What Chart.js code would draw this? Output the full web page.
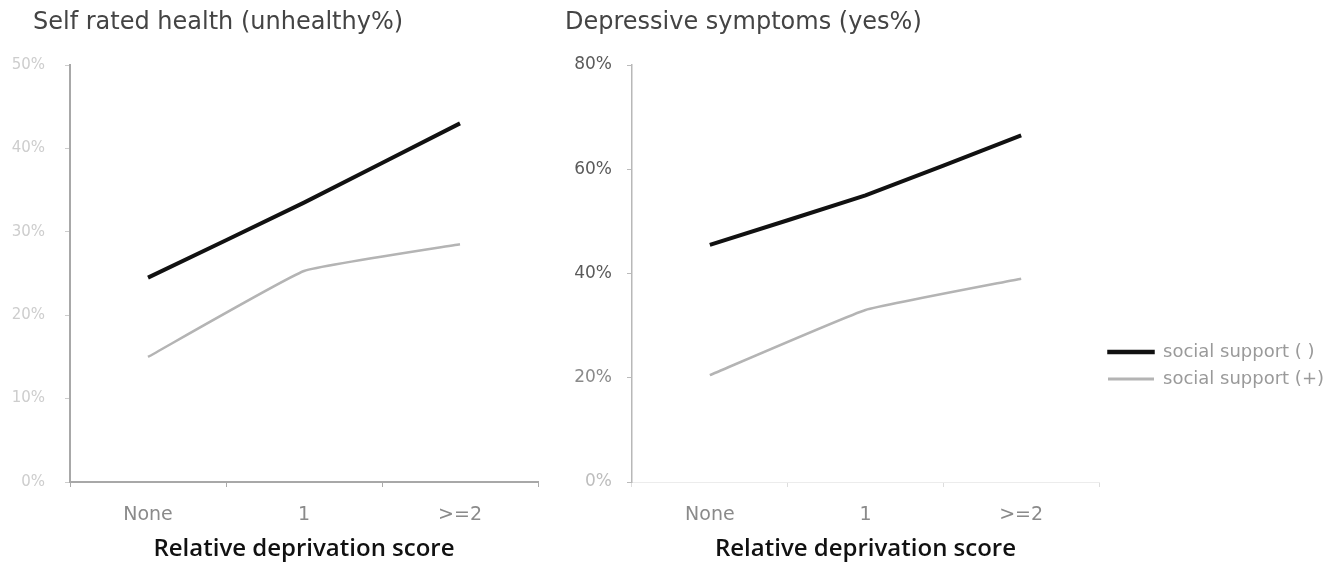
<!DOCTYPE html>
<html><head><meta charset="utf-8">
<script src="https://cdn.jsdelivr.net/npm/chart.js@4.4.0/dist/chart.umd.min.js"></script>
<style>
html,body{margin:0;padding:0;background:#fff;width:1343px;height:566px;overflow:hidden}
canvas{position:absolute;top:0}
#c1{left:0}
#c2{left:545px}
</style></head><body>
<canvas id="c1" width="545" height="566"></canvas>
<canvas id="c2" width="798" height="566"></canvas>
<script>
// ---- data ----
const categories = ['None', '1', '>=2'];
const seriesNames = ['social support ( )', 'social support (+)'];
const srhNoSupport = [24.5, 33.5, 43];
const srhSupport = [15, 25.3, 28.5];
const depNoSupport = [45.5, 55, 66.5];
const depSupport = [20.5, 33, 39];
const srhTicks = [0, 10, 20, 30, 40, 50];
const depTicks = [0, 20, 40, 60, 80];
const titles = ['Self rated health (unhealthy%)', 'Depressive symptoms (yes%)'];
const xTitle = 'Relative deprivation score';

const lineColors = ['#111111', '#b4b4b4'];
const lineWidths = [4, 2.5];

function ds(values, i) {
  return {
    label: seriesNames[i], data: values,
    borderColor: lineColors[i], backgroundColor: lineColors[i],
    borderWidth: lineWidths[i], pointRadius: 0, tension: 0.1
  };
}

// places the chart title at a fixed x offset inside its canvas
function titlePlacer(x) {
  return {
    id: 'titlePlacer',
    afterLayout(chart) { if (chart.titleBlock) chart.titleBlock.left = x; }
  };
}

function makeOptions(cfg) {
  return {
    responsive: false, animation: false,
    layout: { padding: { left: 0, top: 0, bottom: 0, right: cfg.padRight } },
    plugins: {
      title: {
        display: true, text: cfg.title, align: 'start', color: '#444',
        font: { family: 'DejaVu Sans', size: 24, weight: 'normal' },
        padding: { top: 8, bottom: 28.2 }
      },
      legend: cfg.legend,
      tooltip: { enabled: false }
    },
    scales: {
      x: {
        type: 'category', offset: true,
        grid: { display: true, offset: true, drawOnChartArea: false, drawTicks: true, tickLength: 5, color: cfg.xGrid },
        border: { display: true, color: cfg.xBorder, width: cfg.xBorderW },
        ticks: { color: '#8a8a8a', padding: 17, font: { family: 'DejaVu Sans', size: 19 } },
        title: { display: true, text: xTitle, color: '#111', font: { family: 'Open Sans', size: 24, weight: '600' }, padding: { top: 2, bottom: 2 } },
        afterFit: s => { s.height = 84; }
      },
      y: {
        min: 0, max: cfg.max,
        afterBuildTicks: s => { s.ticks = cfg.ticks.map(v => ({ value: v })); },
        grid: { display: true, drawOnChartArea: false, drawTicks: true, tickLength: 5, color: cfg.yGrid },
        border: { display: true, color: cfg.yBorder, width: cfg.yBorderW },
        ticks: {
          padding: cfg.yPad, font: { family: 'DejaVu Sans', size: cfg.yFont },
          color: ctx => cfg.yColor(ctx.tick.value),
          callback: v => v + '%'
        },
        afterFit: s => { s.width = cfg.yWidth; }
      }
    }
  };
}

// Left chart
new Chart(document.getElementById('c1'), {
  type: 'line',
  data: { labels: categories, datasets: [ds(srhNoSupport, 0), ds(srhSupport, 1)] },
  plugins: [titlePlacer(33)],
  options: makeOptions({
    title: titles[0], max: 50, ticks: srhTicks, padRight: 7,
    legend: { display: false },
    xGrid: '#aaa', xBorder: '#a8a8a8', xBorderW: 2,
    yGrid: '#ccc', yBorder: '#a8a8a8', yBorderW: 2,
    yPad: 20, yFont: 15, yWidth: 70,
    yColor: v => '#cdcdcd'
  })
});

// Right chart
const LEGEND_W = 244;
const LEGEND_TOP = 334;
const legendPlacer = {
  id: 'legendPlacer',
  beforeUpdate(chart) {
    const lg = chart.legend;
    if (lg && !lg._patched) {
      const fit = lg.fit.bind(lg);
      lg.fit = function () { fit(); this.width = LEGEND_W; };
      lg._patched = true;
    }
  },
  afterLayout(chart) {
    const lg = chart.legend;
    const h = lg.bottom - lg.top;
    lg.top = LEGEND_TOP; lg.bottom = LEGEND_TOP + h;
  }
};

new Chart(document.getElementById('c2'), {
  type: 'line',
  data: { labels: categories, datasets: [ds(depNoSupport, 0), ds(depSupport, 1)] },
  plugins: [legendPlacer, titlePlacer(20)],
  options: makeOptions({
    title: titles[1], max: 80, ticks: depTicks, padRight: 0,
    legend: {
      display: true, position: 'right', align: 'start',
      labels: {
        boxWidth: 46, boxHeight: 3, padding: 9, color: '#9a9a9a',
        font: { family: 'DejaVu Sans', size: 18 },
        generateLabels: chart => chart.data.datasets.map((d, i) => ({
          text: d.label, fillStyle: lineColors[i], strokeStyle: lineColors[i],
          lineWidth: i === 0 ? 1.5 : 0, hidden: false, datasetIndex: i, fontColor: '#9a9a9a'
        }))
      }
    },
    xGrid: '#ddd', xBorder: '#ececec', xBorderW: 1,
    yGrid: '#bbb', yBorder: '#b8b8b8', yBorderW: 1.5,
    yPad: 15, yFont: 17, yWidth: 87,
    yColor: v => v === 0 ? '#bdbdbd' : (v === 20 ? '#8a8a8a' : '#5a5a5a')
  })
});
</script>
</body></html>
